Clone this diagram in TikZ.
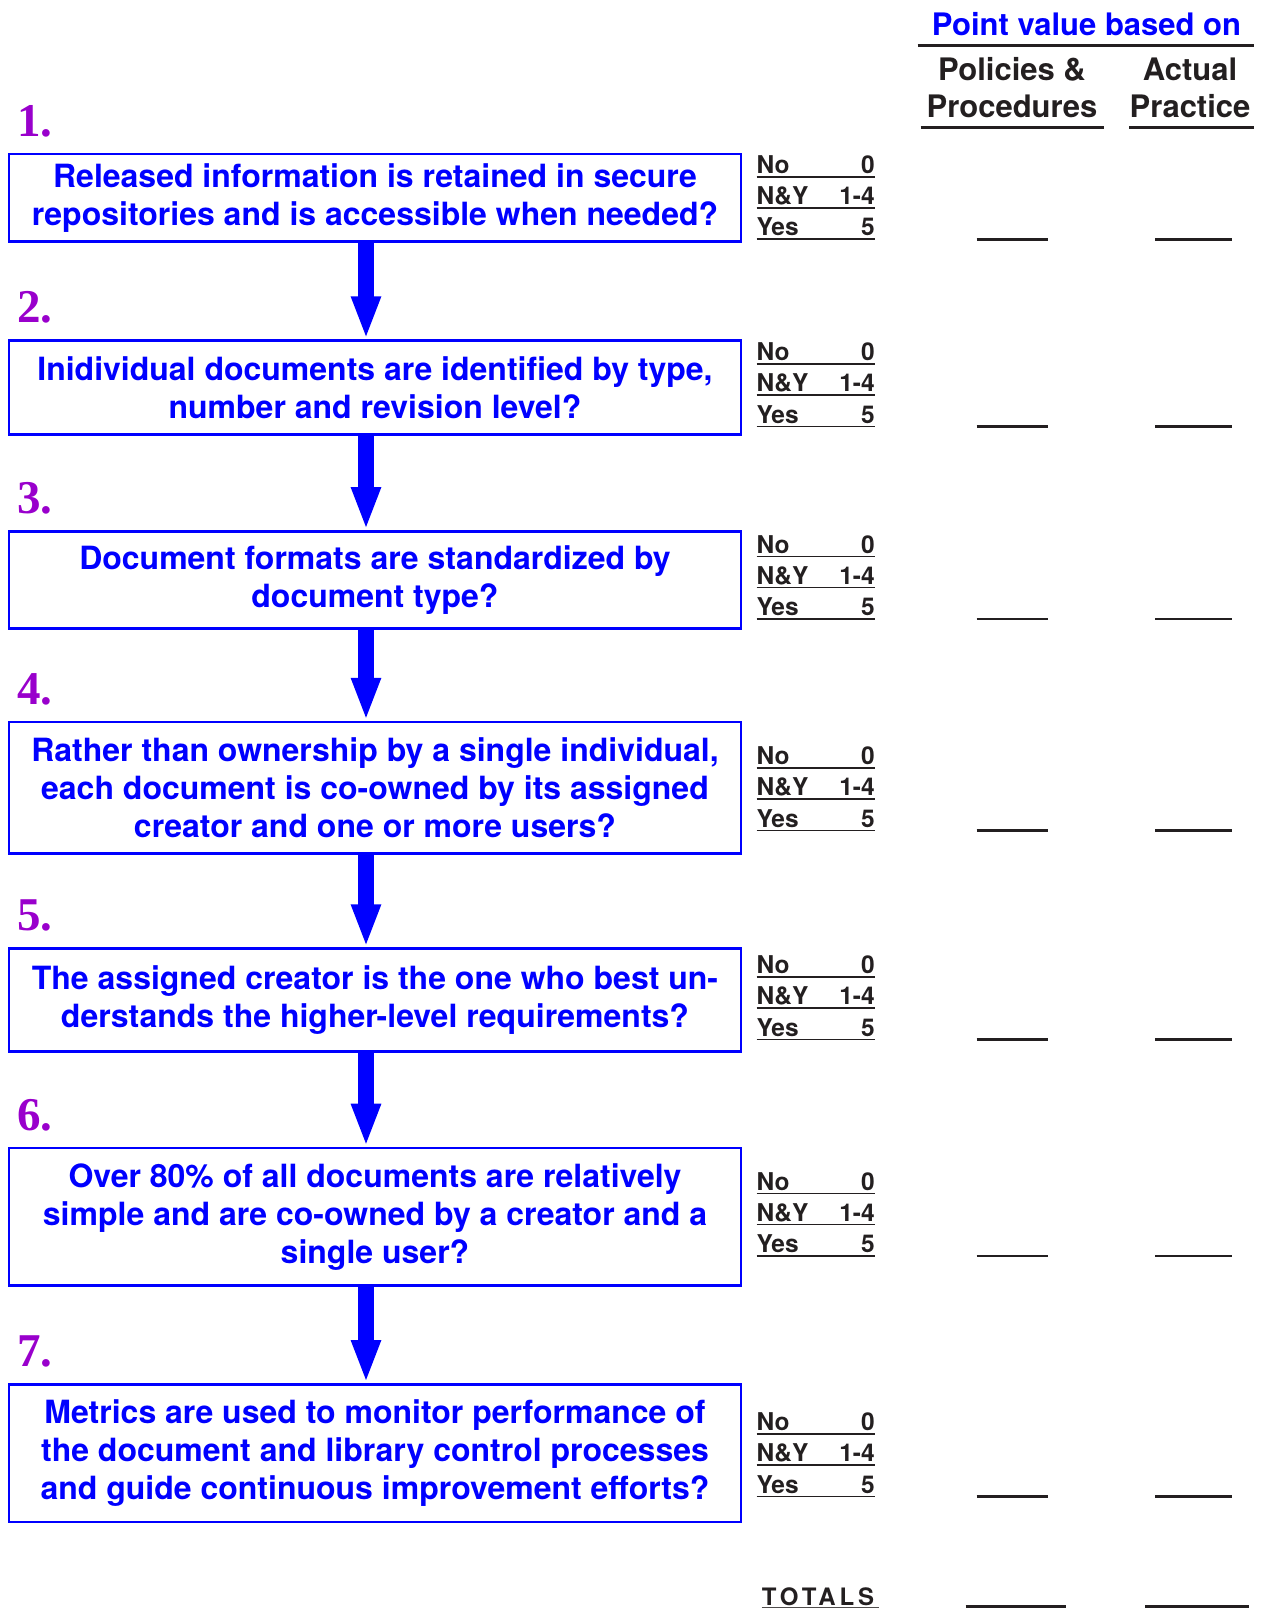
\documentclass[tikz,border=0pt]{standalone}
\usepackage{fontspec}
\setmainfont{TeX Gyre Heros}
\newfontfamily\numfont{Liberation Serif}
\usetikzlibrary{arrows.meta,positioning}
\definecolor{qblue}{RGB}{0,0,255}
\definecolor{numpurple}{RGB}{153,0,204}
\definecolor{inkblack}{RGB}{35,31,32}
\newcommand{\scorerow}[2]{\makebox[118pt]{#1\hfill#2}\llap{\rule[-4.1pt]{118pt}{1.6pt}}}
\newcommand{\scoreblock}{\scorerow{No}{0}\\\scorerow{N\&Y}{1-4}\\\scorerow{Yes}{5}}
\begin{document}
\begin{tikzpicture}[x=1pt, y=-1pt,
  qbox/.style={draw=qblue, line width=2.7pt, text=qblue, align=center, minimum width=732pt, inner sep=0pt, font=\fontsize{32}{38}\selectfont\bfseries},
  numlabel/.style={anchor=base west, text=numpurple, inner sep=0pt, font=\fontsize{47}{47}\selectfont\numfont\bfseries},
  flowarrow/.style={draw=qblue, line width=15.7pt, -{Triangle[length=43pt, width=27pt]}},
  scores/.style={anchor=south west, align=left, inner sep=0pt, text=inkblack, font=\fontsize{24.5}{31.2}\selectfont\bfseries},
  blank/.style={draw=inkblack, line width=2.7pt},
  header/.style={anchor=north, align=center, inner sep=0pt, font=\fontsize{31}{37}\selectfont\bfseries}]
  \useasboundingbox (0,0) rectangle (1261,1608);

  % Column headings
  \node[header, text=qblue] (pv) at (1086.5,12.5) {Point value based on};
  \draw[blank] (917.6,45.7) -- (1254,45.7);
  \node[header, text=inkblack] (pp) at (1012,57.5) {Policies \&\\Procedures};
  \node[header, text=inkblack] (ap) at (1190,57.5) {Actual\\Practice};
  \draw[blank] (920.7,127.7) -- (1104,127.7);
  \draw[blank] (1129,127.7) -- (1254,127.7);

  % Question boxes
  \node[qbox, minimum height=87.5pt] (q1) at (375,197.9) {Released information is retained in secure\\repositories and is accessible when needed?};
  \node[qbox, minimum height=93.7pt] (q2) at (375,387.5) {Inidividual documents are identified by type,\\number and revision level?};
  \node[qbox, minimum height=96.8pt] (q3) at (375,579.8) {Document formats are standardized by\\document type?};
  \node[qbox, minimum height=131.6pt] (q4) at (375,787.9) {Rather than ownership by a single individual,\\each document is co-owned by its assigned\\creator and one or more users?};
  \node[qbox, minimum height=102.9pt] (q5) at (375,1000.1) {The assigned creator is the one who best un-\\derstands the higher-level requirements?};
  \node[qbox, minimum height=137.3pt] (q6) at (375,1216.7) {Over 80\% of all documents are relatively\\simple and are co-owned by a creator and a\\single user?};
  \node[qbox, minimum height=137.7pt] (q7) at (375,1453.2) {Metrics are used to monitor performance of\\the document and library control processes\\and guide continuous improvement efforts?};

  % Numbers
  \node[numlabel] (n1) at ([xshift=9.5pt, yshift=16.5pt]q1.north west) {1.};
  \node[numlabel] (n2) at ([xshift=9.5pt, yshift=16.5pt]q2.north west) {2.};
  \node[numlabel] (n3) at ([xshift=9.5pt, yshift=16.5pt]q3.north west) {3.};
  \node[numlabel] (n4) at ([xshift=9.5pt, yshift=16.5pt]q4.north west) {4.};
  \node[numlabel] (n5) at ([xshift=9.5pt, yshift=16.5pt]q5.north west) {5.};
  \node[numlabel] (n6) at ([xshift=9.5pt, yshift=16.5pt]q6.north west) {6.};
  \node[numlabel] (n7) at ([xshift=9.5pt, yshift=16.5pt]q7.north west) {7.};

  % Flow arrows
  \draw[flowarrow] ([xshift=-9pt]q1.south) -- ([xshift=-9pt]q2.north);
  \draw[flowarrow] ([xshift=-9pt]q2.south) -- ([xshift=-9pt]q3.north);
  \draw[flowarrow] ([xshift=-9pt]q3.south) -- ([xshift=-9pt]q4.north);
  \draw[flowarrow] ([xshift=-9pt]q4.south) -- ([xshift=-9pt]q5.north);
  \draw[flowarrow] ([xshift=-9pt]q5.south) -- ([xshift=-9pt]q6.north);
  \draw[flowarrow] ([xshift=-9pt]q6.south) -- ([xshift=-9pt]q7.north);

  % Score keys
  \node[scores] (s1) at (756.5,240.1) {\scoreblock};
  \node[scores] (s2) at (756.5,427.3) {\scoreblock};
  \node[scores] (s3) at (756.5,619.8) {\scoreblock};
  \node[scores] (s4) at (756.5,831.3) {\scoreblock};
  \node[scores] (s5) at (756.5,1040.3) {\scoreblock};
  \node[scores] (s6) at (756.5,1256.8) {\scoreblock};
  \node[scores] (s7) at (756.5,1497.3) {\scoreblock};

  % Blanks for points
  \draw[blank] (976.5,239.3) -- (1047.5,239.3);
  \draw[blank] (1155,239.3) -- (1232,239.3);
  \draw[blank] (976.5,426.5) -- (1047.5,426.5);
  \draw[blank] (1155,426.5) -- (1232,426.5);
  \draw[blank] (976.5,619) -- (1047.5,619);
  \draw[blank] (1155,619) -- (1232,619);
  \draw[blank] (976.5,830.5) -- (1047.5,830.5);
  \draw[blank] (1155,830.5) -- (1232,830.5);
  \draw[blank] (976.5,1039.5) -- (1047.5,1039.5);
  \draw[blank] (1155,1039.5) -- (1232,1039.5);
  \draw[blank] (976.5,1256) -- (1047.5,1256);
  \draw[blank] (1155,1256) -- (1232,1256);
  \draw[blank] (976.5,1496.5) -- (1047.5,1496.5);
  \draw[blank] (1155,1496.5) -- (1232,1496.5);

  % Totals
  \node[anchor=base west, inner sep=0pt, text=inkblack, font=\fontsize{24}{24}\selectfont\bfseries\addfontfeature{LetterSpace=16}] (tot) at (761.7,1605) {TOTALS};
  \draw[inkblack!80, line width=1.5pt] (761.7,1607.7) -- (879.3,1607.7);
  \draw[blank] (965.7,1606.5) -- (1065.7,1606.5);
  \draw[blank] (1145,1606.5) -- (1249,1606.5);
\end{tikzpicture}
\end{document}
